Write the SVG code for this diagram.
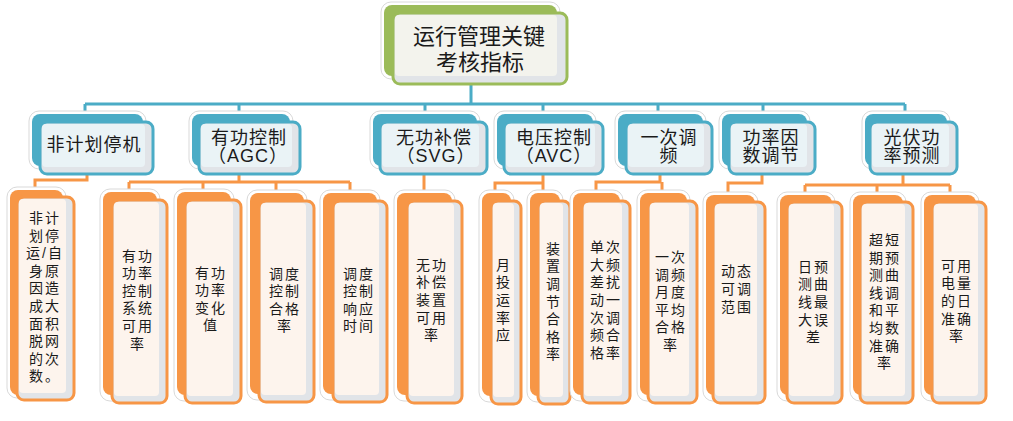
<svg xmlns="http://www.w3.org/2000/svg" width="1013" height="421" viewBox="0 0 1013 421">
<style>
.halo{fill:#fff;stroke:#d9d9d9;stroke-width:1}
.front{stroke-width:3;fill:#e1e4e8}
.blue .back{fill:#4bacc6}.blue .front{stroke:#4bacc6}.blue .inner{fill:#eaf3f6}
.orange .back{fill:#f79646}.orange .front{stroke:#f79646}.orange .inner{fill:#fdf4ed}
.green .back{fill:#9bbb59}.green .front{stroke:#9bbb59}.green .inner{fill:#f3f3ed}
text{font-family:"Liberation Sans","Noto Sans CJK SC",sans-serif;fill:#1a1a1a;text-anchor:middle}
.t1{font-size:18px;letter-spacing:1px}
.t0{font-size:22px}
.t2{font-size:14px;letter-spacing:2px}
.cb{fill:none;stroke:#4bacc6;stroke-width:3}
.co{fill:none;stroke:#f79646;stroke-width:3}
</style>
<g id="connectors">
<path class="cb" d="M471 84V104M85 104H905M85 104V115M239 104V115M425 104V115M543 104V115M658 104V115M763 104V115M905 104V115"/>
<path class="co" d="M87 174V180H35V191"/>
<path class="co" d="M239 174V182M129 182H350M129 182V193M203 182V193M276 182V193M350 182V193"/>
<path class="co" d="M424 174V194"/>
<path class="co" d="M543 174V183H495V194M543 183V194"/>
<path class="co" d="M660 174V182H596V194M662 182V194"/>
<path class="co" d="M762 174V183H728V196"/>
<path class="co" d="M903 174V185M805 185H950M805 185V196M877 185V196M950 185V196"/>
</g>
<g id="root" class="green">
<rect class="halo" x="381" y="2" width="179" height="77" rx="10"/>
<rect class="back" x="384" y="5" width="173" height="71" rx="8"/>
<rect class="front" x="393" y="13" width="174" height="71" rx="7"/>
<rect class="inner" x="395" y="15" width="162" height="61" rx="4"/>
<text class="t0" x="479" y="44">运行管理关键</text>
<text class="t0" x="480" y="70">考核指标</text>
</g>
<g id="l1-1" class="blue">
<rect class="halo" x="29" y="111" width="117" height="58" rx="10"/>
<rect class="back" x="32" y="114" width="111" height="52" rx="8"/>
<rect class="front" x="40" y="122" width="113" height="52" rx="7"/>
<rect class="inner" x="42" y="124" width="103" height="43" rx="4"/>
<text class="t1" x="94" y="151">非计划停机</text>
</g>
<g id="l1-2" class="blue">
<rect class="halo" x="189" y="111" width="104" height="58" rx="10"/>
<rect class="back" x="192" y="114" width="98" height="52" rx="8"/>
<rect class="front" x="199" y="122" width="101" height="52" rx="7"/>
<rect class="inner" x="201" y="124" width="91" height="43" rx="4"/>
<text class="t1" x="249" y="143.5">有功控制</text>
<text class="t1" x="248" y="161.5">（AGC）</text>
</g>
<g id="l1-3" class="blue">
<rect class="halo" x="370" y="111" width="110" height="58" rx="10"/>
<rect class="back" x="373" y="114" width="104" height="52" rx="8"/>
<rect class="front" x="380" y="122" width="107" height="52" rx="7"/>
<rect class="inner" x="382" y="124" width="97" height="43" rx="4"/>
<text class="t1" x="434" y="143.5">无功补偿</text>
<text class="t1" x="436" y="161.5">（SVG）</text>
</g>
<g id="l1-4" class="blue">
<rect class="halo" x="494" y="111" width="102" height="58" rx="10"/>
<rect class="back" x="497" y="114" width="96" height="52" rx="8"/>
<rect class="front" x="504" y="122" width="99" height="52" rx="7"/>
<rect class="inner" x="506" y="124" width="89" height="43" rx="4"/>
<text class="t1" x="554" y="143.5">电压控制</text>
<text class="t1" x="554" y="161.5">（AVC）</text>
</g>
<g id="l1-5" class="blue">
<rect class="halo" x="615" y="111" width="91" height="58" rx="10"/>
<rect class="back" x="618" y="114" width="85" height="52" rx="8"/>
<rect class="front" x="626" y="122" width="86" height="52" rx="7"/>
<rect class="inner" x="628" y="124" width="76" height="43" rx="4"/>
<text class="t1" x="669" y="143.5">一次调</text>
<text class="t1" x="669" y="161.5">频</text>
</g>
<g id="l1-6" class="blue">
<rect class="halo" x="719" y="111" width="91" height="58" rx="10"/>
<rect class="back" x="722" y="114" width="85" height="52" rx="8"/>
<rect class="front" x="729" y="122" width="86" height="52" rx="7"/>
<rect class="inner" x="731" y="124" width="76" height="43" rx="4"/>
<text class="t1" x="771" y="143.5">功率因</text>
<text class="t1" x="771" y="161.5">数调节</text>
</g>
<g id="l1-7" class="blue">
<rect class="halo" x="862" y="111" width="88" height="58" rx="10"/>
<rect class="back" x="865" y="114" width="82" height="52" rx="8"/>
<rect class="front" x="870" y="122" width="87" height="52" rx="7"/>
<rect class="inner" x="872" y="124" width="77" height="43" rx="4"/>
<text class="t1" x="912" y="143.5">光伏功</text>
<text class="t1" x="912" y="161.5">率预测</text>
</g>
<g id="leaf-1" class="orange">
<rect class="halo" x="7" y="187" width="59" height="211" rx="10"/>
<rect class="back" x="10" y="190" width="53" height="205" rx="8"/>
<rect class="front" x="17" y="197" width="57" height="203" rx="7"/>
<rect class="inner" x="19" y="199" width="47" height="194" rx="4"/>
<text class="t2"><tspan x="45" y="223">非计</tspan><tspan x="45" dy="17.6">划停</tspan><tspan x="45" dy="17.6">运/自</tspan><tspan x="45" dy="17.6">身原</tspan><tspan x="45" dy="17.6">因造</tspan><tspan x="45" dy="17.6">成大</tspan><tspan x="45" dy="17.6">面积</tspan><tspan x="45" dy="17.6">脱网</tspan><tspan x="45" dy="17.6">的次</tspan><tspan x="45" dy="17.6">数。</tspan></text>
</g>
<g id="leaf-2" class="orange">
<rect class="halo" x="100" y="189" width="60" height="212" rx="10"/>
<rect class="back" x="103" y="192" width="54" height="203" rx="8"/>
<rect class="front" x="112" y="200" width="55" height="203" rx="7"/>
<rect class="inner" x="114" y="202" width="45" height="194" rx="4"/>
<text class="t2"><tspan x="138" y="260.5">有功</tspan><tspan x="138" dy="17.6">功率</tspan><tspan x="138" dy="17.6">控制</tspan><tspan x="138" dy="17.6">系统</tspan><tspan x="138" dy="17.6">可用</tspan><tspan x="138" dy="17.6">率</tspan></text>
</g>
<g id="leaf-3" class="orange">
<rect class="halo" x="174" y="189" width="60" height="212" rx="10"/>
<rect class="back" x="177" y="192" width="54" height="203" rx="8"/>
<rect class="front" x="185" y="200" width="56" height="203" rx="7"/>
<rect class="inner" x="187" y="202" width="46" height="194" rx="4"/>
<text class="t2"><tspan x="211" y="277.6">有功</tspan><tspan x="211" dy="17.6">功率</tspan><tspan x="211" dy="17.6">变化</tspan><tspan x="211" dy="17.6">值</tspan></text>
</g>
<g id="leaf-4" class="orange">
<rect class="halo" x="247" y="190" width="60" height="210" rx="10"/>
<rect class="back" x="250" y="193" width="54" height="201" rx="8"/>
<rect class="front" x="259" y="201" width="55" height="201" rx="7"/>
<rect class="inner" x="261" y="203" width="45" height="192" rx="4"/>
<text class="t2"><tspan x="285" y="278.6">调度</tspan><tspan x="285" dy="17.6">控制</tspan><tspan x="285" dy="17.6">合格</tspan><tspan x="285" dy="17.6">率</tspan></text>
</g>
<g id="leaf-5" class="orange">
<rect class="halo" x="320" y="190" width="60" height="210" rx="10"/>
<rect class="back" x="323" y="193" width="54" height="201" rx="8"/>
<rect class="front" x="333" y="201" width="54" height="201" rx="7"/>
<rect class="inner" x="335" y="203" width="44" height="192" rx="4"/>
<text class="t2"><tspan x="359" y="278.6">调度</tspan><tspan x="359" dy="17.6">控制</tspan><tspan x="359" dy="17.6">响应</tspan><tspan x="359" dy="17.6">时间</tspan></text>
</g>
<g id="leaf-6" class="orange">
<rect class="halo" x="394" y="190" width="61" height="211" rx="10"/>
<rect class="back" x="397" y="193" width="55" height="202" rx="8"/>
<rect class="front" x="407" y="201" width="55" height="202" rx="7"/>
<rect class="inner" x="409" y="203" width="45" height="193" rx="4"/>
<text class="t2"><tspan x="432" y="269.8">无功</tspan><tspan x="432" dy="17.6">补偿</tspan><tspan x="432" dy="17.6">装置</tspan><tspan x="432" dy="17.6">可用</tspan><tspan x="432" dy="17.6">率</tspan></text>
</g>
<g id="leaf-7" class="orange">
<rect class="halo" x="479" y="190" width="35" height="212" rx="10"/>
<rect class="back" x="482" y="193" width="29" height="203" rx="8"/>
<rect class="front" x="491" y="201" width="30" height="203" rx="7"/>
<rect class="inner" x="493" y="203" width="21" height="194" rx="4"/>
<text class="t2"><tspan x="504" y="269.8">月</tspan><tspan x="504" dy="17.6">投</tspan><tspan x="504" dy="17.6">运</tspan><tspan x="504" dy="17.6">率</tspan><tspan x="504" dy="17.6">应</tspan></text>
</g>
<g id="leaf-8" class="orange">
<rect class="halo" x="527" y="190" width="36" height="212" rx="10"/>
<rect class="back" x="530" y="193" width="30" height="203" rx="8"/>
<rect class="front" x="538" y="201" width="32" height="203" rx="7"/>
<rect class="inner" x="540" y="203" width="23" height="194" rx="4"/>
<text class="t2"><tspan x="554" y="253.7">装</tspan><tspan x="554" dy="17.6">置</tspan><tspan x="554" dy="17.6">调</tspan><tspan x="554" dy="17.6">节</tspan><tspan x="554" dy="17.6">合</tspan><tspan x="554" dy="17.6">格</tspan><tspan x="554" dy="17.6">率</tspan></text>
</g>
<g id="leaf-9" class="orange">
<rect class="halo" x="570" y="190" width="53" height="211" rx="10"/>
<rect class="back" x="573" y="193" width="47" height="202" rx="8"/>
<rect class="front" x="582" y="201" width="48" height="202" rx="7"/>
<rect class="inner" x="584" y="203" width="38" height="193" rx="4"/>
<text class="t2"><tspan x="606" y="252.2">单次</tspan><tspan x="606" dy="17.6">大频</tspan><tspan x="606" dy="17.6">差扰</tspan><tspan x="606" dy="17.6">动一</tspan><tspan x="606" dy="17.6">次调</tspan><tspan x="606" dy="17.6">频合</tspan><tspan x="606" dy="17.6">格率</tspan></text>
</g>
<g id="leaf-10" class="orange">
<rect class="halo" x="637" y="190" width="53" height="211" rx="10"/>
<rect class="back" x="640" y="193" width="47" height="202" rx="8"/>
<rect class="front" x="648" y="201" width="49" height="202" rx="7"/>
<rect class="inner" x="650" y="203" width="39" height="193" rx="4"/>
<text class="t2"><tspan x="671" y="262">一次</tspan><tspan x="671" dy="17.6">调频</tspan><tspan x="671" dy="17.6">月度</tspan><tspan x="671" dy="17.6">平均</tspan><tspan x="671" dy="17.6">合格</tspan><tspan x="671" dy="17.6">率</tspan></text>
</g>
<g id="leaf-11" class="orange">
<rect class="halo" x="703" y="192" width="55" height="209" rx="10"/>
<rect class="back" x="706" y="195" width="49" height="200" rx="8"/>
<rect class="front" x="713" y="202" width="52" height="201" rx="7"/>
<rect class="inner" x="715" y="204" width="42" height="192" rx="4"/>
<text class="t2"><tspan x="737" y="276.4">动态</tspan><tspan x="737" dy="17.6">可调</tspan><tspan x="737" dy="17.6">范围</tspan></text>
</g>
<g id="leaf-12" class="orange">
<rect class="halo" x="777" y="192" width="58" height="209" rx="10"/>
<rect class="back" x="780" y="195" width="52" height="200" rx="8"/>
<rect class="front" x="787" y="202" width="55" height="201" rx="7"/>
<rect class="inner" x="789" y="204" width="45" height="192" rx="4"/>
<text class="t2"><tspan x="814" y="271.8">日预</tspan><tspan x="814" dy="17.6">测曲</tspan><tspan x="814" dy="17.6">线最</tspan><tspan x="814" dy="17.6">大误</tspan><tspan x="814" dy="17.6">差</tspan></text>
</g>
<g id="leaf-13" class="orange">
<rect class="halo" x="850" y="192" width="56" height="209" rx="10"/>
<rect class="back" x="853" y="195" width="50" height="200" rx="8"/>
<rect class="front" x="860" y="202" width="53" height="201" rx="7"/>
<rect class="inner" x="862" y="204" width="43" height="192" rx="4"/>
<text class="t2"><tspan x="885" y="244.9">超短</tspan><tspan x="885" dy="17.6">期预</tspan><tspan x="885" dy="17.6">测曲</tspan><tspan x="885" dy="17.6">线调</tspan><tspan x="885" dy="17.6">和平</tspan><tspan x="885" dy="17.6">均数</tspan><tspan x="885" dy="17.6">准确</tspan><tspan x="885" dy="17.6">率</tspan></text>
</g>
<g id="leaf-14" class="orange">
<rect class="halo" x="921" y="192" width="58" height="209" rx="10"/>
<rect class="back" x="924" y="195" width="52" height="200" rx="8"/>
<rect class="front" x="932" y="202" width="54" height="201" rx="7"/>
<rect class="inner" x="934" y="204" width="44" height="192" rx="4"/>
<text class="t2"><tspan x="957" y="270.8">可用</tspan><tspan x="957" dy="17.6">电量</tspan><tspan x="957" dy="17.6">的日</tspan><tspan x="957" dy="17.6">准确</tspan><tspan x="957" dy="17.6">率</tspan></text>
</g>
</svg>
